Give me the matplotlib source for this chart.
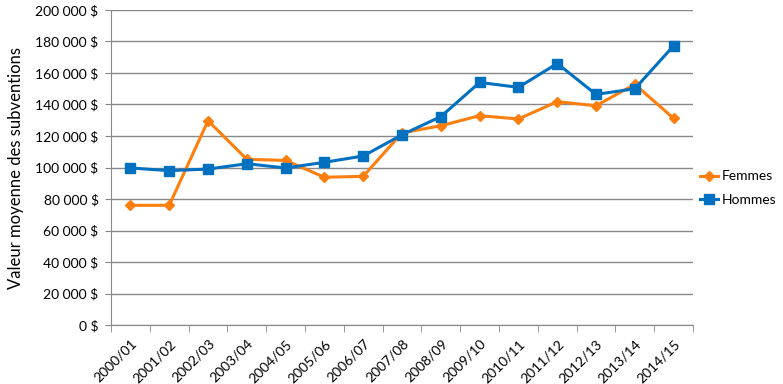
import numpy as np
import matplotlib.pyplot as plt
from matplotlib.ticker import FuncFormatter

annees = ['2000/01', '2001/02', '2002/03', '2003/04', '2004/05', '2005/06', '2006/07',
          '2007/08', '2008/09', '2009/10', '2010/11', '2011/12', '2012/13', '2013/14', '2014/15']
femmes = [76000, 76000, 129700, 105200, 104500, 93800, 94400,
          122000, 126500, 132900, 130800, 141800, 139200, 152800, 131200]
hommes = [99700, 98000, 99000, 102400, 99700, 103300, 107300,
          120800, 132300, 154000, 150900, 166000, 146400, 150000, 177300]

plt.rcParams['font.family'] = ['Lato', 'DejaVu Sans']

fig = plt.figure(figsize=(7.83, 3.84), dpi=100)
ax = fig.add_axes([0.1418, 0.1536, 0.7433, 0.8204])

x = np.arange(len(annees))
ax.plot(x, femmes, color='#FF7F0E', lw=2.2, marker='D', ms=5.5, label='Femmes')
ax.plot(x, hommes, color='#0070C0', lw=2.2, marker='s', ms=7, label='Hommes')

ax.set_xlim(-0.5, len(annees) - 0.5)
ax.set_ylim(0, 200000)
ax.set_yticks(np.arange(0, 200001, 20000))
ax.yaxis.set_major_formatter(FuncFormatter(lambda v, p: f'{int(v):,} $'.replace(',', ' ')))
ax.grid(axis='y', color='#888888', lw=1)
ax.set_axisbelow(True)

ax.set_xticks(x)
ax.set_xticklabels(annees, rotation=45, ha='right', rotation_mode='anchor')
ax.set_xticks(np.arange(-0.5, len(annees), 1), minor=True)
ax.tick_params(axis='x', which='major', length=0, pad=9, labelsize=10)
ax.tick_params(axis='x', which='minor', length=5, color='#888888')
ax.tick_params(axis='y', length=4, color='#888888', labelsize=10, pad=5)

for s in ['top', 'right']:
    ax.spines[s].set_visible(False)
for s in ['left', 'bottom']:
    ax.spines[s].set_color('#888888')

ax.set_ylabel('Valeur moyenne des subventions', fontsize=12, labelpad=8)

ax.legend(loc='center left', bbox_to_anchor=(1.0, 0.435), frameon=False,
          fontsize=10, handlelength=1.3, handletextpad=0.3, labelspacing=0.8,
          borderaxespad=0.4, borderpad=0.1)

fig.savefig('out.png', dpi=100)
